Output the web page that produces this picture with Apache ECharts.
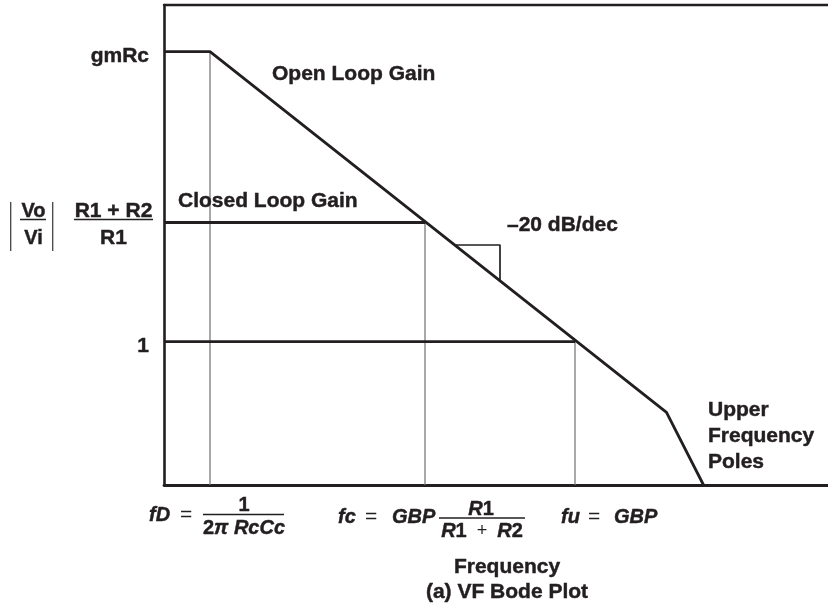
<!DOCTYPE html>
<html>
<head>
<meta charset="utf-8">
<script src="https://cdn.jsdelivr.net/npm/echarts@6/dist/echarts.min.js"></script>
<style>
html,body{margin:0;padding:0;background:#fff;}
#chart{width:828px;height:610px;}
</style>
</head>
<body>
<div id="chart"></div>
<script>
// Abstract axis units (log-frequency on x, gain on y)
const xRange = [0, 132.8];
const yRange = [0, 96];

// key frequencies: fD, fc, fu
const freqNames = ['fD', 'fc', 'fu'];
const freqValues = [9.2, 52.2, 82.2];

// key gain levels
const gainNames = ['gmRc', '(R1 + R2)/R1', '1'];
const gainValues = [86.66, 52.5, 28.66];

// open loop gain curve: flat, -20 dB/dec, upper frequency poles
const openLoopX = [0, 9.2, 100.5, 107.9];
const openLoopY = [86.66, 86.66, 14.54, 0];

// closed loop gain and unity gain lines
const closedLoopX = [0, 52.2];
const closedLoopY = [52.5, 52.5];
const unityX = [0, 82.2];
const unityY = [28.66, 28.66];

// slope indicator triangle
const triangleX = [58.4, 67.2, 67.2];
const triangleY = [48, 48, 41];

const ink = '#231f20';
const zip = (xs, ys) => xs.map((x, i) => [x, ys[i]]);

const chart = echarts.init(document.getElementById('chart'), null, {renderer: 'canvas'});

const baseFont = 'Liberation Sans, Arial, sans-serif';

const thick = {color: ink, width: 2.8};
const thin = {color: '#7a7a7a', width: 1.3};

function lineSeries(data, style) {
  return {
    type: 'line', data: data, symbol: 'none', silent: true,
    lineStyle: style, animation: false, z: 3
  };
}

const series = [
  lineSeries(zip(openLoopX, openLoopY), thick),
  lineSeries(zip(closedLoopX, closedLoopY), thick),
  lineSeries(zip(unityX, unityY), thick),
  lineSeries(zip(triangleX, triangleY), {color: ink, width: 1.7})
];
freqValues.forEach((f, i) => {
  series.push(Object.assign(lineSeries([[f, 0], [f, gainValues[i]]], thin), {z: 2}));
});

// thin text outline to embolden (zrender text stroke)
const bolder = {stroke: ink, lineWidth: 0.45};

function txt(text, x, y, opts) {
  return {
    type: 'text', silent: true, z: 10,
    style: Object.assign({
      text: text, x: x, y: y,
      fill: ink,
      fontFamily: baseFont, fontSize: 21, fontWeight: 'bold',
      align: 'left', verticalAlign: 'middle'
    }, bolder, opts || {})
  };
}
function ln(x1, y1, x2, y2, w, c) {
  return {
    type: 'line', silent: true, z: 10,
    shape: {x1: x1, y1: y1, x2: x2, y2: y2},
    style: {stroke: c || ink, lineWidth: w || 1.3}
  };
}

const it = Object.assign({fontFamily: baseFont, fontSize: 20, fontWeight: 'bold', fontStyle: 'italic', fill: ink}, bolder);
const up = Object.assign({fontFamily: baseFont, fontSize: 20, fontWeight: 'bold', fill: ink}, bolder);

const graphics = [
  // curve annotations
  txt('Open Loop Gain', 272, 74),
  txt('Closed Loop Gain', 178, 201),
  txt('\u201320 dB/dec', 507, 225),
  txt('Upper', 708, 410),
  txt('Frequency', 708, 436),
  txt('Poles', 708, 462),
  // y label |Vo/Vi|  (R1+R2)/R1
  ln(10.7, 202, 10.7, 251, 1.3, '#444'),
  ln(52.7, 202, 52.7, 251, 1.3, '#444'),
  txt('Vo', 33.5, 211, {align: 'center', fontSize: 20}),
  ln(20, 219.5, 46, 219.5, 1.5),
  txt('Vi', 33.5, 238, {align: 'center', fontSize: 20}),
  txt('R1 + R2', 113.5, 211, {align: 'center'}),
  ln(74, 219.5, 153, 219.5, 1.5),
  txt('R1', 113.5, 238, {align: 'center'}),
  // fD formula
  txt('fD', 149, 515, {fontStyle: 'italic', fontSize: 20}),
  txt('=', 180, 515, {fontWeight: 'normal', lineWidth: 0}),
  txt('1', 244, 505.5, {align: 'center', fontSize: 20}),
  ln(203, 514.5, 284, 514.5, 1.4),
  {
    type: 'text', silent: true, z: 10,
    style: {text: '{u|2}{i|\u03c0 RcCc}', x: 244, y: 528.5, align: 'center', verticalAlign: 'middle',
      rich: {u: up, i: it}}
  },
  // fc formula
  txt('fc', 338, 517, {fontStyle: 'italic', fontSize: 20}),
  txt('=', 365, 517, {fontWeight: 'normal', lineWidth: 0}),
  txt('GBP', 392, 517, {fontStyle: 'italic', fontSize: 20}),
  {
    type: 'text', silent: true, z: 10,
    style: {text: '{i|R}{u|1}', x: 481, y: 509, align: 'center', verticalAlign: 'middle',
      rich: {u: up, i: it}}
  },
  ln(439, 518, 525, 518, 1.4),
  {
    type: 'text', silent: true, z: 10,
    style: {text: '{i|R}{u|1}{e|  +  }{i|R}{u|2}', x: 482, y: 531.5, align: 'center', verticalAlign: 'middle',
      rich: {u: up, i: it, e: {fontFamily: baseFont, fontSize: 18, fontWeight: 'normal', fill: ink}}}
  },
  // fu formula
  txt('fu', 561, 517, {fontStyle: 'italic', fontSize: 20}),
  txt('=', 588, 517, {fontWeight: 'normal', lineWidth: 0}),
  txt('GBP', 614, 517, {fontStyle: 'italic', fontSize: 20}),
  // axis title and caption
  txt('Frequency', 507, 567, {align: 'center'}),
  txt('(a) VF Bode Plot', 507, 592, {align: 'center'})
];

const option = {
  backgroundColor: '#fff',
  animation: false,
  grid: {left: 164, right: 0, top: 5, bottom: 125, containLabel: false},
  xAxis: [
    {
      type: 'value', min: xRange[0], max: xRange[1], position: 'bottom',
      axisLine: {show: true, lineStyle: {color: ink, width: 2.8}},
      axisTick: {show: false}, axisLabel: {show: false}, splitLine: {show: false}
    },
    {
      type: 'value', min: xRange[0], max: xRange[1], position: 'top',
      axisLine: {show: true, lineStyle: {color: ink, width: 2.4}},
      axisTick: {show: false}, axisLabel: {show: false}, splitLine: {show: false}
    }
  ],
  yAxis: {
    type: 'value', min: yRange[0], max: yRange[1],
    axisLine: {show: true, lineStyle: {color: ink, width: 2.6}},
    axisTick: {show: false}, splitLine: {show: false},
    axisLabel: {
      show: true,
      customValues: [gainValues[0], gainValues[2]],
      margin: 15,
      formatter: function (v) {
        const i = gainValues.findIndex(g => Math.abs(g - v) < 1e-6);
        return (i === 1 || i < 0) ? '' : '{a|' + gainNames[i] + '}';
      },
      rich: {
        a: {color: ink, fontFamily: baseFont, fontSize: 21, fontWeight: 'bold',
          textBorderColor: ink, textBorderWidth: 0.45, padding: [9, 0, 0, 0]}
      }
    }
  },
  series: series,
  graphic: graphics
};

chart.setOption(option);
</script>
</body>
</html>
